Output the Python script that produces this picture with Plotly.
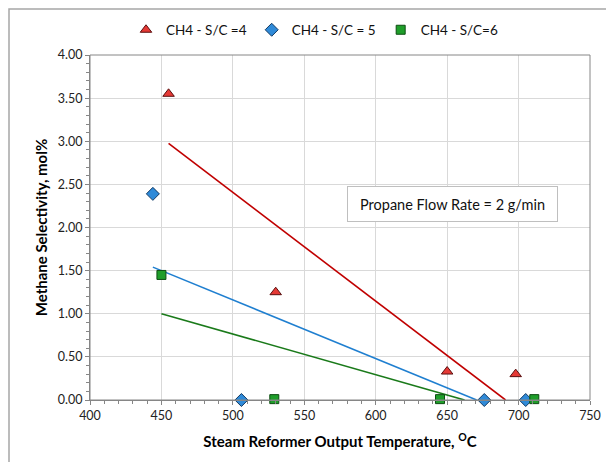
import numpy as np
import plotly.graph_objects as go

# Data
x_sc4 = [455, 530, 650, 698]
y_sc4 = [3.55, 1.25, 0.33, 0.30]
x_sc5 = [444, 506, 676, 705]
y_sc5 = [2.39, 0.00, 0.00, 0.00]
x_sc6 = [450, 529, 645, 711]
y_sc6 = [1.45, 0.01, 0.01, 0.01]
names = ["CH4 - S/C =4", "CH4 - S/C = 5", "CH4 - S/C=6"]
x_ticks = [400, 450, 500, 550, 600, 650, 700, 750]
y_ticks = [0.0, 0.5, 1.0, 1.5, 2.0, 2.5, 3.0, 3.5, 4.0]

FONT = "Lato"
series = [
    (x_sc4, y_sc4, names[0], "triangle-up", "#e53935", "#5a0f0f", "#c00000", 10),
    (x_sc5, y_sc5, names[1], "diamond", "#2f8ad8", "#123a63", "#1f7fd0", 10),
    (x_sc6, y_sc6, names[2], "square", "#1f9e2a", "#0d4d12", "#1a7a1a", 9),
]

fig = go.Figure()
# trendlines (linear least squares, drawn over data range, clipped at y=0)
for xs, ys, nm, sym, fill, edge, lc, sz in series:
    m, b = np.polyfit(xs, ys, 1)
    x0 = min(xs)
    x1 = max(xs)
    root = -b / m
    if root < x1:
        x1 = root
    fig.add_trace(go.Scatter(x=[x0, x1], y=[m * x0 + b, m * x1 + b], mode="lines",
                             line=dict(color=lc, width=1.6), showlegend=False,
                             hoverinfo="skip"))
for xs, ys, nm, sym, fill, edge, lc, sz in series:
    fig.add_trace(go.Scatter(x=xs, y=ys, mode="markers", name=nm, cliponaxis=False,
                             marker=dict(symbol=sym, size=sz, color=fill,
                                         line=dict(color=edge, width=1))))

axis_common = dict(showline=True, linecolor="#868686", linewidth=1,
                   showgrid=True, gridcolor="#d9d9d9", gridwidth=1,
                   zeroline=False, ticks="outside", ticklen=4, tickcolor="#868686",
                   tickfont=dict(family=FONT, size=12.5, color="#222"),
                   mirror=False, automargin=False)

fig.update_xaxes(range=[400, 750], tickvals=x_ticks,
                 minor=dict(dtick=10, ticks="outside", ticklen=3, tickcolor="#868686", showgrid=False),
                 title=dict(text="<b>Steam Reformer Output Temperature, <sup>O</sup>C</b>",
                            font=dict(family=FONT, size=15, color="#000"), standoff=14),
                 **axis_common)
fig.update_yaxes(range=[0, 4], tickvals=y_ticks, tickformat=".2f",
                 minor=dict(dtick=0.1, ticks="outside", ticklen=3, tickcolor="#868686", showgrid=False),
                 title=dict(text="<b>Methane Selectivity, mol%</b>",
                            font=dict(family=FONT, size=15, color="#000"), standoff=6),
                 **axis_common)

# right/top plot border
fig.add_shape(type="rect", xref="paper", yref="paper", x0=0, y0=0, x1=1, y1=1,
              line=dict(color="#868686", width=1), layer="above")
# chart outer border
fig.add_shape(type="rect", xref="paper", yref="paper", x0=-0.162, y0=-0.3, x1=1.06, y1=1.1333,
              line=dict(color="#a6a6a6", width=1.5), layer="below")

fig.add_annotation(x=(452 - 90) / 500, y=(400 - 204) / 345, xref="paper", yref="paper",
                   xanchor="center", yanchor="middle",
                   text="Propane Flow Rate = 2 g/min", showarrow=False,
                   font=dict(family=FONT, size=14.5, color="#111"),
                   bgcolor="white", bordercolor="#bfbfbf", borderwidth=1,
                   borderpad=7, width=195, height=20)

fig.update_layout(width=606, height=462,
                  margin=dict(l=90, r=16, t=55, b=62, autoexpand=False),
                  paper_bgcolor="white", plot_bgcolor="white",
                  showlegend=True,
                  legend=dict(orientation="h", x=0.072, y=1.0725,
                              xanchor="left", yanchor="middle",
                              font=dict(family=FONT, size=13.5, color="#111"),
                              itemwidth=30, tracegroupgap=0,
                              bgcolor="rgba(0,0,0,0)"))

# remove the browser's default page margin so the figure fills the 606x462 window exactly
fig.write_html("out.html", config={"displayModeBar": False},
               post_script="document.body.style.margin='0';document.body.style.overflow='hidden';")
